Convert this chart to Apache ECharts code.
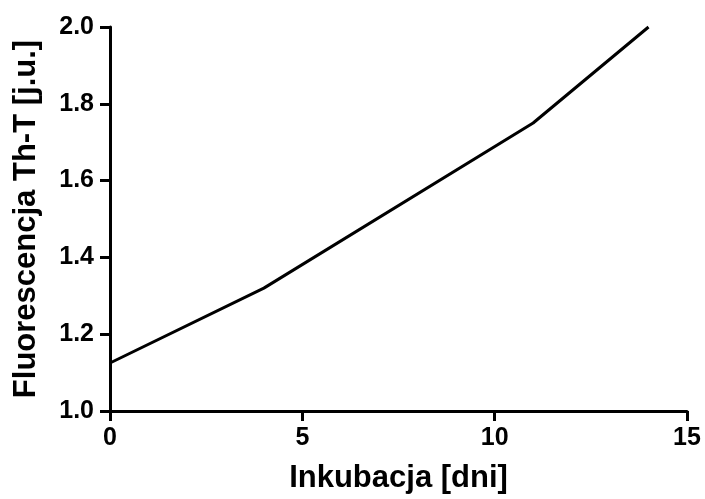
<!DOCTYPE html>
<html>
<head>
<meta charset="utf-8">
<script src="https://cdn.jsdelivr.net/npm/echarts@6/dist/echarts.min.js"></script>
<style>
html, body { margin: 0; padding: 0; background: #fff; }
#chart { width: 705px; height: 499px; }
</style>
</head>
<body>
<div id="chart"></div>
<script>
// dni inkubacji i fluorescencja
var days = [0, 4, 11, 14];
var fluor = [1.125, 1.32, 1.75, 2.0];

var myChart = echarts.init(document.getElementById('chart'));
var font = 'Liberation Sans, Arial, sans-serif';
var option = {
    backgroundColor: '#fff',
    animation: false,
    grid: { left: 110, right: 18, top: 27, bottom: 86 },
    xAxis: {
        type: 'value',
        min: 0, max: 15, interval: 5,
        name: 'Inkubacja [dni]',
        nameLocation: 'middle',
        nameGap: 52,
        nameTextStyle: { color: '#000', fontFamily: font, fontWeight: 'bold', fontSize: 31 },
        axisLine: { lineStyle: { color: '#000', width: 3 } },
        axisTick: { length: 10, lineStyle: { color: '#000', width: 3 } },
        axisLabel: { color: '#000', fontFamily: font, fontWeight: 'bold', fontSize: 25, margin: 15 },
        splitLine: { show: false }
    },
    yAxis: {
        type: 'value',
        min: 1.0, max: 2.0, interval: 0.2,
        name: 'Fluorescencja Th-T [j.u.]',
        nameLocation: 'middle',
        nameGap: 68,
        nameRotate: 90,
        nameTextStyle: { color: '#000', fontFamily: font, fontWeight: 'bold', fontSize: 31 },
        axisLine: { show: true, lineStyle: { color: '#000', width: 3 } },
        axisTick: { show: true, length: 10, lineStyle: { color: '#000', width: 3 } },
        axisLabel: {
            color: '#000', fontFamily: font, fontWeight: 'bold', fontSize: 25, margin: 16,
            formatter: function (v) { return v.toFixed(1); }
        },
        splitLine: { show: false }
    },
    series: [{
        type: 'line',
        data: days.map(function (d, i) { return [d, fluor[i]]; }),
        showSymbol: false,
        lineStyle: { color: '#000', width: 3 },
        clip: false
    }]
};
myChart.setOption(option);
</script>
</body>
</html>
